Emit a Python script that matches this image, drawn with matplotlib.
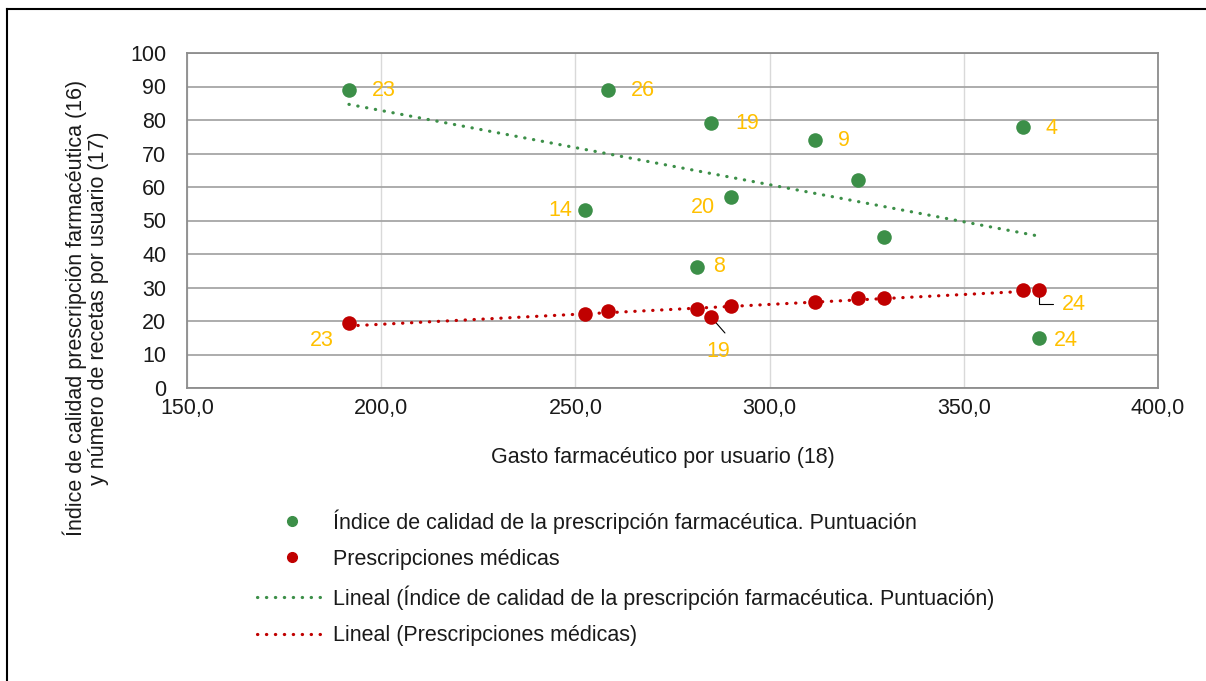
import numpy as np
import matplotlib
matplotlib.use("Agg")
import matplotlib.pyplot as plt
from matplotlib.lines import Line2D
from matplotlib.ticker import FuncFormatter, MultipleLocator

plt.rcParams['font.family'] = ['Liberation Sans', 'DejaVu Sans']

### Datos
gasto = [191.7, 252.5, 258.4, 281.3, 284.9, 290.0, 311.7, 322.8, 329.5, 365.2, 369.4]
indice_calidad = [89, 53, 89, 36, 79, 57, 74, 62, 45, 78, 15]
prescripciones = [19.4, 22.1, 23.0, 23.6, 21.2, 24.5, 25.7, 26.9, 26.9, 29.3, 29.3]

# etiquetas de zona (indice, texto)
etiquetas_calidad = [(0, '23'), (2, '26'), (4, '19'), (6, '9'), (9, '4'),
                     (1, '14'), (5, '20'), (3, '8'), (10, '24')]

verde = '#3C8F48'
rojo = '#C00000'
amarillo = '#FFC000'
texto = '#1A1A1A'
fs = 15.5
punteado = (0, (0.1, 2.7))

fig = plt.figure(figsize=(12.06, 6.81), dpi=100)
ax = fig.add_axes([187/1206, 1-388/681, (1158-187)/1206, (388-53)/681])

ax.scatter(gasto, indice_calidad, s=110, color=verde, zorder=4, linewidths=0)
ax.scatter(gasto, prescripciones, s=110, color=rojo, zorder=4, linewidths=0)

# lineas de tendencia (regresion lineal)
xs = np.array([min(gasto), max(gasto)])
for serie, col in [(indice_calidad, verde), (prescripciones, rojo)]:
    p = np.polyfit(gasto, serie, 1)
    ax.plot(xs, np.polyval(p, xs), color=col, lw=2.3, linestyle=punteado,
            dash_capstyle='round', zorder=3)

# etiquetas
off_calidad = {0: (35, -1), 2: (35, -1), 4: (36, 0), 6: (29, 0), 9: (29, -2),
               1: (-25, 0), 5: (-28, -10), 3: (22, 1), 10: (27, -3)}
for i, t in etiquetas_calidad:
    ax.annotate(t, (gasto[i], indice_calidad[i]), xytext=off_calidad[i],
                textcoords='offset pixels', ha='center', va='center',
                color=amarillo, fontsize=fs)

ax.annotate('23', (gasto[0], prescripciones[0]), xytext=(-27, -17),
            textcoords='offset pixels', ha='center', va='center',
            color=amarillo, fontsize=fs)
ax.annotate('19', (gasto[4], prescripciones[4]), xytext=(7, -35),
            textcoords='offset pixels', ha='center', va='center',
            color=amarillo, fontsize=fs)
ax.annotate('', (gasto[4], prescripciones[4]), xytext=(14, -16),
            textcoords='offset pixels',
            arrowprops=dict(arrowstyle='-', color='black', lw=0.8, shrinkA=0, shrinkB=0))
ax.annotate('24', (gasto[10], prescripciones[10]), xytext=(35, -15),
            textcoords='offset pixels', ha='center', va='center',
            color=amarillo, fontsize=fs)
ax.annotate('', (gasto[10], prescripciones[10]), xytext=(14, -14),
            textcoords='offset pixels',
            arrowprops=dict(arrowstyle='-', color='black', lw=0.8, shrinkA=0, shrinkB=0,
                            connectionstyle='angle,angleA=0,angleB=90,rad=0'))

ax.set_xlim(150, 400)
ax.set_ylim(0, 100)
ax.xaxis.set_major_locator(MultipleLocator(50))
ax.yaxis.set_major_locator(MultipleLocator(10))
ax.xaxis.set_major_formatter(FuncFormatter(lambda v, p: f'{v:.1f}'.replace('.', ',')))
ax.tick_params(length=0, labelsize=fs, colors=texto)
ax.tick_params(axis='y', pad=15)
ax.tick_params(axis='x', pad=7)
ax.grid(axis='y', color='#A6A6A6', lw=1.3)
ax.grid(axis='x', color='#D9D9D9', lw=1.0)
ax.set_axisbelow(True)
for s in ax.spines.values():
    s.set_color('#8C8C8C')
    s.set_linewidth(1.3)

fig.text(663/1206, 1-457/681, 'Gasto farmacéutico por usuario (18)', ha='center', va='center',
         fontsize=fs, color=texto)
fig.text(86/1206, 1-308/681,
         'Índice de calidad prescripción farmacéutica (16)\ny número de recetas por usuario (17)',
         ha='center', va='center', rotation=90, fontsize=fs, linespacing=1.05, color=texto)

handles = [
    Line2D([], [], marker='o', color=verde, linestyle='none', markersize=7),
    Line2D([], [], marker='o', color=rojo, linestyle='none', markersize=7),
    Line2D([], [], color=verde, lw=2.3, linestyle=punteado, dash_capstyle='round'),
    Line2D([], [], color=rojo, lw=2.3, linestyle=punteado, dash_capstyle='round'),
]
labels = ['Índice de calidad de la prescripción farmacéutica. Puntuación',
          'Prescripciones médicas',
          'Lineal (Índice de calidad de la prescripción farmacéutica. Puntuación)',
          'Lineal (Prescripciones médicas)']
leg = fig.legend(handles, labels, loc='upper left', bbox_to_anchor=(257/1206, 1-509/681),
                 frameon=False, fontsize=fs, handlelength=3.25, handletextpad=0.28,
                 labelspacing=0.72, borderpad=0, borderaxespad=0)
for t in leg.get_texts():
    t.set_color(texto)

# marco
fig.add_artist(Line2D([7/1206, 1], [1-9/681, 1-9/681], color='black', lw=1.5))
fig.add_artist(Line2D([7/1206, 7/1206], [0, 1-9/681], color='black', lw=1.5))

fig.savefig('out.png', dpi=100)
